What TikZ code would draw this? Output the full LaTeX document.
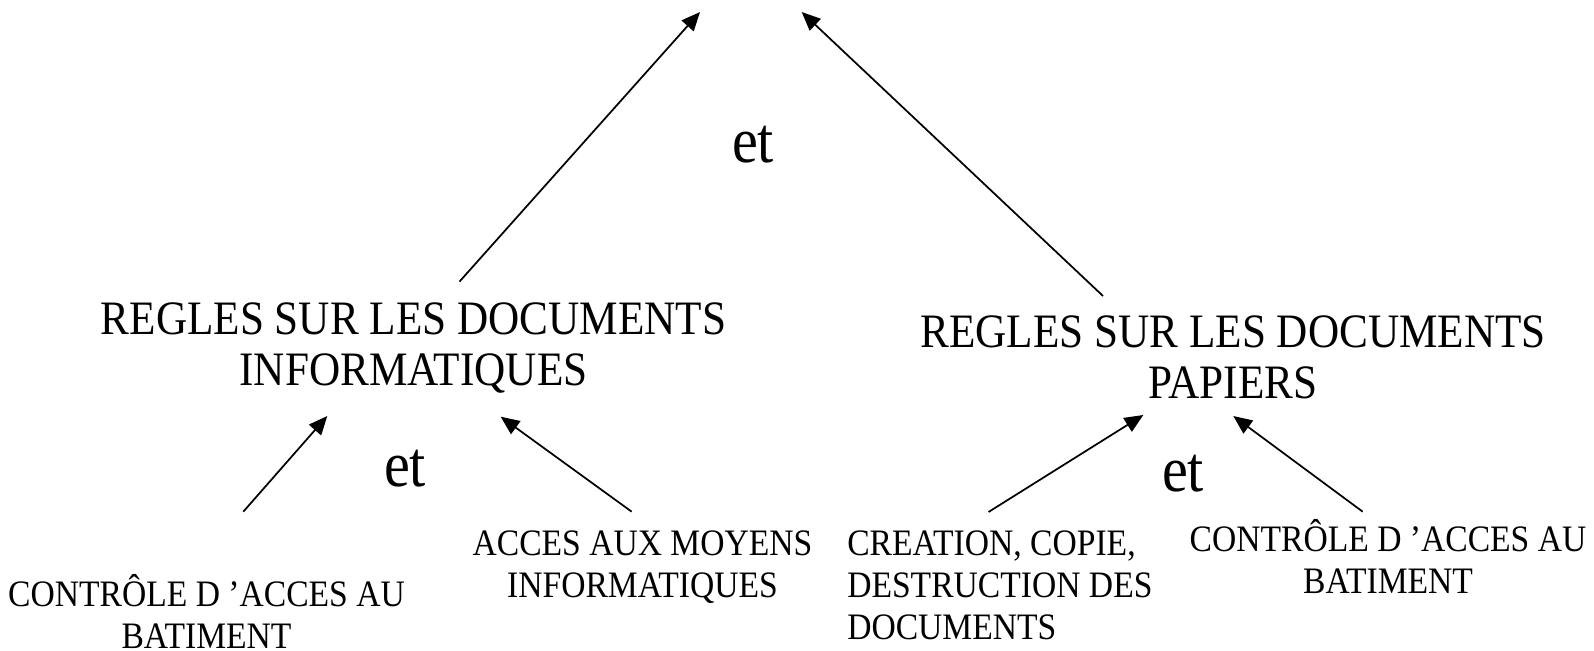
\documentclass[tikz,border=0pt]{standalone}
\usepackage{fontspec}
\setmainfont{Liberation Serif}[FakeStretch=0.9]
\usetikzlibrary{arrows.meta}
\tikzset{
  conn/.style={line width=1.3pt,-{Triangle[length=14pt,width=12pt]}},
  biglbl/.style={inner sep=0pt,anchor=base,font=\fontsize{36}{38.25}\selectfont},
  etlbl/.style={inner sep=0pt,anchor=base,font=\fontsize{48.5}{55}\selectfont},
  smalllbl/.style={inner sep=0pt,anchor=base,font=\fontsize{28}{31.5}\selectfont}
}
\begin{document}
\begin{tikzpicture}[x=0.75pt,y=-0.75pt]
\useasboundingbox (0,0) rectangle (1594,650);
% top "et"
\node[etlbl] (et0) at (753,162) {et};
% level 1 labels
\node[biglbl] (info) at (413.5,334) {\begin{tabular}[t]{@{}c@{}}REGLES SUR LES DOCUMENTS\\INFORMATIQUES\end{tabular}};
\node[biglbl] (pap) at (1233,347) {\begin{tabular}[t]{@{}c@{}}REGLES SUR LES DOCUMENTS\\PAPIERS\end{tabular}};
% lower "et"
\node[etlbl] (et1) at (405,486) {et};
\node[etlbl] (et2) at (1183,491) {et};
% leaves
\node[smalllbl] (ctl1) at (206.5,606) {\begin{tabular}[t]{@{}c@{}}CONTRÔLE D ’ACCES AU\\BATIMENT\end{tabular}};
\node[smalllbl] (acc) at (642.5,555) {\begin{tabular}[t]{@{}c@{}}ACCES AUX MOYENS\\INFORMATIQUES\end{tabular}};
\node[smalllbl,anchor=base west] (cre) at (847,555) {\begin{tabular}[t]{@{}l@{}}CREATION, COPIE,\\DESTRUCTION DES\\DOCUMENTS\end{tabular}};
\node[smalllbl] (ctl2) at (1388,551) {\begin{tabular}[t]{@{}c@{}}CONTRÔLE D ’ACCES AU\\BATIMENT\end{tabular}};
% connector end points
\coordinate (tipL) at (700,12);
\coordinate (tipR) at (801.7,12);
\coordinate (infoT) at (459.5,281.6);
\coordinate (papT) at (1103,296);
\coordinate (infoB1) at (327.3,416);
\coordinate (infoB2) at (500.7,416.7);
\coordinate (papB1) at (1143.3,415);
\coordinate (papB2) at (1233.3,416);
\coordinate (ctl1T) at (243.3,511.7);
\coordinate (accT) at (631.7,511.7);
\coordinate (creT) at (988.5,512);
\coordinate (ctl2T) at (1362.7,511.7);
% connectors
\draw[conn] (infoT) -- (tipL);
\draw[conn] (papT) -- (tipR);
\draw[conn] (ctl1T) -- (infoB1);
\draw[conn] (accT) -- (infoB2);
\draw[conn] (creT) -- (papB1);
\draw[conn] (ctl2T) -- (papB2);
\end{tikzpicture}
\end{document}
